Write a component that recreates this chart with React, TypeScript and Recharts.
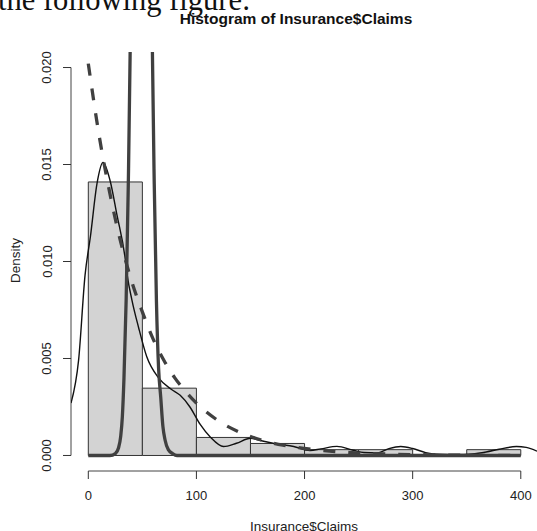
import React from 'react'
import {
  ComposedChart, Line, XAxis, YAxis, ReferenceArea, ReferenceLine,
} from 'recharts'

/* histogram bins (density scale) */
const binStart = [0, 50, 100, 150, 200, 250, 300, 350]
const binEnd = [50, 100, 150, 200, 250, 300, 350, 400]
const binDensity = [0.0141, 0.00347, 0.00093, 0.00062, 0.0003, 0.0003, 0, 0.0003]

/* kernel density (thin black) */
const kdeX = [-16, -9, -3, 2, 8, 13.6, 20, 26.5, 34, 36, 40.4, 46.5, 54, 65, 77, 85, 94, 103.5, 113, 125, 137, 150, 159, 174, 190, 205, 215, 230, 245, 255, 267, 278, 289, 300, 312, 325, 340, 355, 368, 380, 396, 405, 415]
const kdeY = [0.0027, 0.0049, 0.0093, 0.0113, 0.014, 0.0151, 0.0142, 0.0124, 0.0102, 0.0093, 0.008, 0.0066, 0.0051, 0.004, 0.0034, 0.0031, 0.0025, 0.0016, 0.00094, 0.00046, 0.00063, 0.00089, 0.00077, 0.0006, 0.00046, 0.00026, 0.00034, 0.00047, 0.00027, 0.00015, 0.00013, 0.00035, 0.00046, 0.00036, 0.00015, 0.00006, 0.00005, 0.00008, 0.00018, 0.00032, 0.00046, 0.00042, 0.00022]

/* exponential-looking fit (thick dashed) */
const expX = [0, 10, 20, 30, 40, 50, 60, 70, 80, 90, 100, 120, 140, 160, 180, 200, 240, 280, 320, 360, 400]
const expY = [0.0202, 0.0165, 0.0135, 0.011, 0.009, 0.0074, 0.006, 0.0049, 0.004, 0.0033, 0.0027, 0.0018, 0.0012, 0.0008, 0.00053, 0.00036, 0.00016, 0.00007, 0.00003, 0.00001, 0.000006]

/* narrow normal-looking fit (thick solid, runs off the top) */
const normX = [0, 10, 20, 25, 28, 30, 31.5, 33, 35, 37, 39, 41, 45, 49, 53, 57, 59, 61, 63, 65, 67, 69, 71, 74, 78, 82, 100, 200, 300, 400]
const normY = [0, 0, 0, 0.0001, 0.0004, 0.001, 0.002, 0.004, 0.008, 0.014, 0.022, 0.035, 0.06, 0.08, 0.06, 0.035, 0.022, 0.014, 0.008, 0.0045, 0.003, 0.0015, 0.0008, 0.0003, 0.0001, 0, 0, 0, 0, 0]

const xTicks = [0, 100, 200, 300, 400]
const yTicks = [0, 0.005, 0.01, 0.015, 0.02]

const zip = (xs: number[], ys: number[]) => xs.map((x, i) => ({ x, y: ys[i] }))
const kdeData = zip(kdeX, kdeY)
const expData = zip(expX, expY)
const normData = zip(normX, normY)

const SANS = '"Liberation Sans", Arial, sans-serif'
const DARK = '#404040'

function YTick(props: any) {
  const { y, payload } = props
  return (
    <text
      x={51.5}
      y={y}
      transform={`rotate(-90, 51.5, ${y})`}
      textAnchor="middle"
      fontSize={13}
      fill="#222"
      fontFamily={SANS}
    >
      {Number(payload.value).toFixed(3)}
    </text>
  )
}

export default function App() {
  return (
    <div style={{ position: 'absolute', left: 0, top: 0, width: 537, height: 531, overflow: 'hidden', background: '#fff' }}>
      <ComposedChart width={537} height={531} margin={{ top: 52, right: 0, bottom: 0, left: 11 }}>
        <XAxis
          type="number"
          dataKey="x"
          domain={[-16, 415]}
          allowDataOverflow
          ticks={xTicks}
          interval={0}
          axisLine={false}
          tickLine={{ stroke: '#333' }}
          tickSize={8}
          tickMargin={12}
          height={60}
          tick={{ fontSize: 13, fill: '#222', fontFamily: SANS }}
        />
        <YAxis
          type="number"
          domain={[-0.0008, 0.0208]}
          allowDataOverflow
          ticks={yTicks}
          interval={0}
          axisLine={false}
          tickLine={{ stroke: '#333' }}
          tickSize={8}
          width={60}
          tick={<YTick />}
        />
        {binStart.map((s, i) => (
          <ReferenceArea
            key={s}
            x1={s}
            x2={binEnd[i]}
            y1={0}
            y2={binDensity[i]}
            fill="#d3d3d3"
            fillOpacity={1}
            stroke="#333"
            strokeWidth={1}
          />
        ))}
        {/* R-style detached axis lines */}
        <ReferenceLine segment={[{ x: -16, y: 0 }, { x: -16, y: 0.02 }]} stroke="#444" strokeWidth={1} ifOverflow="visible" />
        <ReferenceLine segment={[{ x: 0, y: -0.0008 }, { x: 400, y: -0.0008 }]} stroke="#444" strokeWidth={1} ifOverflow="visible" />
        <Line data={kdeData} dataKey="y" type="monotone" dot={false} stroke="#111" strokeWidth={1.4} isAnimationActive={false} />
        <Line data={expData} dataKey="y" type="monotone" dot={false} stroke={DARK} strokeWidth={3.3} strokeDasharray="12 13" isAnimationActive={false} />
        <Line data={normData} dataKey="y" type="monotone" dot={false} stroke={DARK} strokeWidth={3.3} isAnimationActive={false} />
      </ComposedChart>
      <svg width={537} height={531} style={{ position: 'absolute', left: 0, top: 0, pointerEvents: 'none' }}>
        <text x={-2} y={9.5} fontSize={30.5} fontFamily='"Liberation Serif", "Times New Roman", serif' fill="#111">
          the following figure:
        </text>
        <text x={296} y={24} textAnchor="middle" fontSize={15.5} fontWeight="bold" fontFamily={SANS} fill="#111">
          Histogram of Insurance$Claims
        </text>
        <text x={20} y={260.5} transform="rotate(-90, 20, 260.5)" textAnchor="middle" fontSize={13.5} fontFamily={SANS} fill="#222">
          Density
        </text>
        <text x={304} y={531} textAnchor="middle" fontSize={13.5} fontFamily={SANS} fill="#222">
          Insurance$Claims
        </text>
      </svg>
    </div>
  )
}
